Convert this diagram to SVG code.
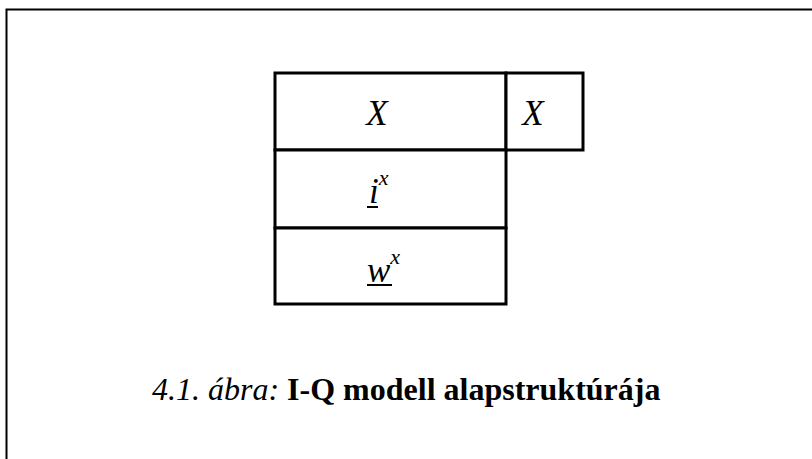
<svg xmlns="http://www.w3.org/2000/svg" width="812" height="459" viewBox="0 0 812 459">
<defs>
<style>
.cell{fill:#fff;stroke:#000;stroke-width:3}
.ul{stroke:#000;stroke-width:2}
</style>
</defs>
<rect x="0" y="0" width="812" height="459" fill="#fff"/>
<path d="M6.5 460 V9.5 H813" fill="none" stroke="#000" stroke-width="2"/>
<g id="cell-x-main">
<rect class="cell" x="275" y="73" width="231" height="77"/>
<text x="377" y="125" font-family="Liberation Serif, serif" font-style="italic" font-size="35" text-anchor="middle">X</text>
</g>
<g id="cell-x-side">
<rect class="cell" x="506" y="73" width="77" height="77"/>
<text x="533" y="125" font-family="Liberation Serif, serif" font-style="italic" font-size="35" text-anchor="middle">X</text>
</g>
<g id="cell-i">
<rect class="cell" x="275" y="150" width="231" height="78"/>
<text x="369" y="203" font-family="Liberation Serif, serif" font-style="italic" font-size="35">i<tspan font-size="22" dy="-18">x</tspan></text>
<line class="ul" x1="367" y1="207" x2="378" y2="207"/>
</g>
<g id="cell-w">
<rect class="cell" x="275" y="228" width="231" height="76"/>
<text x="367" y="282" font-family="Liberation Serif, serif" font-style="italic" font-size="35">w<tspan font-size="22" dy="-18">x</tspan></text>
<line class="ul" x1="367" y1="285" x2="392" y2="285"/>
</g>
<g id="connectors"></g>
<g id="caption">
<text x="152" y="400" font-family="Liberation Serif, serif" font-size="32"><tspan font-style="italic">4.1. ábra:</tspan> <tspan font-weight="bold">I-Q modell alapstruktúrája</tspan></text>
</g>
</svg>
